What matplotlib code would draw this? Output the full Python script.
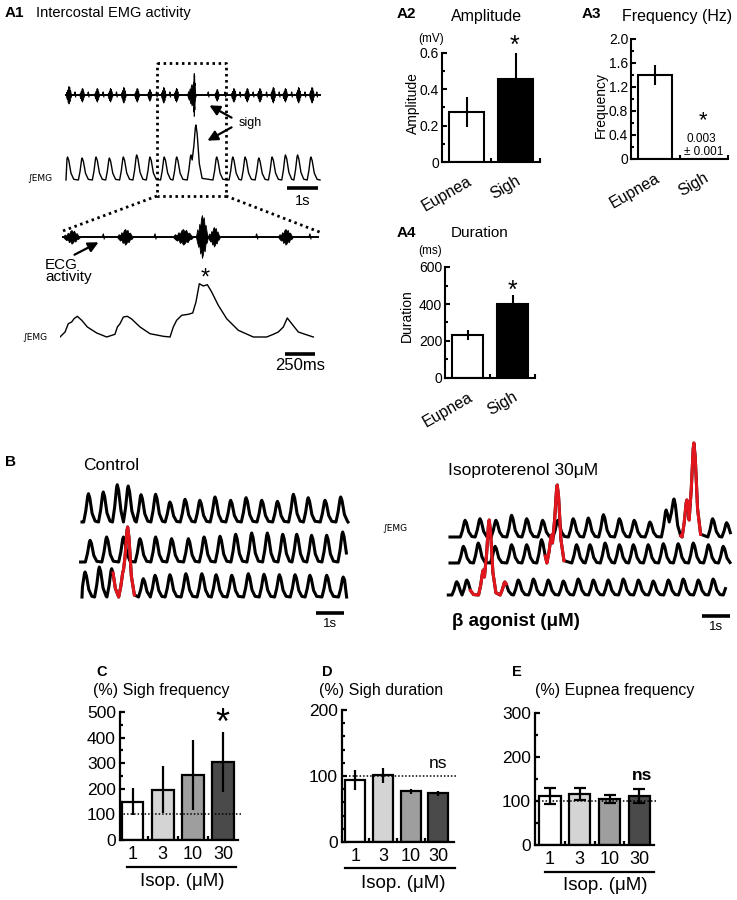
import numpy as np
import matplotlib
matplotlib.use("Agg")
import matplotlib.pyplot as plt

W, H = 737, 900
plt.rcParams["font.family"] = ["Liberation Sans", "DejaVu Sans"]

# ---------------- data ----------------
GROUPS = ["Eupnea", "Sigh"]
AMP_MEAN = [0.275, 0.457]
AMP_SEM = [0.085, 0.143]
FREQ_MEAN = [1.40, 0.003]
FREQ_SEM = [0.17, 0.0]
DUR_MEAN = [232, 400]
DUR_SEM = [25, 50]

ISOP_DOSES = ["1", "3", "10", "30"]
SIGH_FREQ_PCT = [150, 197, 253, 305]
SIGH_FREQ_SEM = [52, 92, 137, 118]
SIGH_DUR_PCT = [94, 101, 77, 74]
SIGH_DUR_SEM = [15, 11, 4, 4]
EUP_FREQ_PCT = [111, 116, 104, 111]
EUP_FREQ_SEM = [18, 14, 9, 16]

# A1 overview (s); raw EMG bursts: centre, half width, amplitude
A1_RAW_T = [0.08, 0.51, 0.99, 1.42, 1.85, 2.28, 2.69, 3.14, 3.55, 4.05, 4.12,
            4.86, 5.40, 5.83, 6.24, 6.67, 7.06, 7.49, 7.92]
A1_RAW_W = [0.09, 0.08, 0.08, 0.08, 0.08, 0.08, 0.07, 0.08, 0.08, 0.14, 0.05,
            0.07, 0.08, 0.08, 0.08, 0.08, 0.08, 0.08, 0.08]
A1_RAW_A = [9, 7, 7, 7, 8, 7, 6, 8, 7, 11, 22, 6, 7, 7, 7, 8, 7, 8, 8]
A1_ECG_T = [0.29, 0.72, 1.20, 1.63, 2.92, 3.35, 4.59, 5.13, 5.61, 6.04, 6.47,
            6.88, 7.28, 7.71, 8.09]
A1_INT_T = [0.05, 0.52, 0.97, 1.40, 1.85, 2.28, 2.71, 3.17, 3.57, 4.03, 4.19,
            4.86, 5.38, 5.78, 6.22, 6.65, 7.08, 7.47, 7.90]
A1_INT_H = [23, 22, 23, 22, 23, 25, 23, 23, 23, 25, 55, 23, 23, 23, 22, 23, 25, 25, 23]
A1_INT_BASE = {10: 20}

# A1 expanded view (ms)
Z_RAW_T = [96, 542, 1025, 1183, 1283, 1879]
Z_RAW_W = [71, 67, 85, 50, 50, 62]
Z_RAW_A = [7, 8, 8, 22, 10, 8]
Z_ECG_T = [361, 792, 1639, 2083]
Z_INT_T = [0, 42, 69, 97, 117, 144, 181, 228, 306, 389, 458, 478, 500, 528, 561,
           597, 667, 750, 861, 917, 944, 972, 1014, 1069, 1106, 1133, 1161, 1194,
           1228, 1264, 1319, 1389, 1486, 1611, 1722, 1778, 1819, 1861, 1894, 1931,
           1986, 2042, 2111]
Z_INT_Y = [0, 5, 13.3, 15, 18.3, 20.7, 16.7, 10, 4, 0, 2.7, 10, 13.3, 20, 20.7,
           18, 10, 3.3, 0.7, 0, 10, 16.7, 21.7, 22.7, 24, 35, 53.3, 51, 52.3, 45,
           31.7, 18.3, 6.7, 0, 0, 2.7, 5, 10, 19, 13.3, 5, 2.7, 0]

# B control (s)
CTRL_R1_T = [0.23, 0.76, 1.26, 1.65, 2.11, 2.63, 3.14, 3.68, 4.21, 4.75, 5.31,
             5.86, 6.42, 6.98, 7.55, 8.08, 8.68, 9.24]
CTRL_R1_H = [28.3, 30, 37.3, 36, 27.3, 27.7, 20, 22.7, 21.7, 25, 21.7, 24.3,
             21.7, 20.7, 27.7, 24.3, 21.7, 25]
CTRL_R2_T = [0.29, 0.88, 1.48, 2.07, 2.63, 3.20, 3.80, 4.36, 4.93, 5.49, 6.06,
             6.62, 7.17, 7.67, 8.20, 8.74, 9.31]
CTRL_R2_H = [21.7, 25, 25, 23.3, 25, 23.3, 23.3, 25, 25.7, 27.7, 29, 29, 27.7,
             27.7, 26.7, 26.7, 30]
CTRL_R3_T = [0.11, 0.62, 1.06, 1.48, 1.63, 2.19, 2.61, 3.14, 3.71, 4.28, 4.79,
             5.35, 5.94, 6.50, 7.05, 7.61, 8.14, 8.74, 9.33, 9.62]
CTRL_R3_H = [25, 30, 28.3, 26.7, 70, 18.3, 21.7, 22.3, 23.3, 23.3, 22.3, 21.7,
             23.3, 22.7, 22.3, 22.3, 21.7, 21.7, 20, 22]
CTRL_R3_BASE = {4: 20}
CTRL_R3_RED = (1.10, 1.92)

# B isoproterenol (s)
ISO_R1_T = [0.54, 1.07, 1.64, 2.20, 2.74, 3.31, 3.85, 4.40, 4.94, 5.48, 6.05,
            6.58, 7.14, 7.72, 8.00, 8.46, 8.71, 9.38, 9.88]
ISO_R1_H = [16.7, 18.3, 16.7, 21.7, 18.3, 16.7, 16.7, 18.3, 19, 22.3, 18.3,
            16.7, 15, 27, 38, 37, 94, 18.3, 14.3]
ISO_R1_BASE = {14: 15, 16: 17}
ISO_R1_RED = (8.22, 9.08)
ISO_R2_T = [0.48, 1.01, 1.61, 2.20, 2.74, 3.27, 3.63, 3.83, 4.52, 5.00, 5.54,
            6.05, 6.55, 7.08, 7.62, 8.15, 8.69, 9.23, 9.76]
ISO_R2_H = [16.7, 20, 16.7, 18.3, 18.3, 23.3, 28, 78, 18.3, 18.3, 20, 18.3,
            18.3, 18.3, 19.3, 19.3, 20, 18.3, 16.7]
ISO_R2_BASE = {7: 20}
ISO_R2_RED = (3.40, 4.25)
ISO_R3_T = [0.24, 0.60, 1.19, 1.40, 1.96, 2.44, 2.98, 3.51, 4.05, 4.58, 5.12,
            5.65, 6.19, 6.73, 7.26, 7.80, 8.33, 8.87, 9.40, 9.93]
ISO_R3_H = [13.3, 15, 25, 75, 13, 15, 16, 15, 14, 16, 15, 15, 16, 15, 14, 15,
            16, 15, 16, 16]
ISO_R3_BASE = {3: 18}
ISO_R3_RED = (0.68, 2.08)

# breath waveform template (fraction of rise / fall time, fraction of height)
SHAPE_F = [-1.0, -0.55, -0.15, 0.0, 0.2, 0.55, 1.0]
SHAPE_Y = [0.0, 0.4, 0.92, 1.0, 0.85, 0.3, 0.03]
# ragged envelope of a raw EMG burst (upper and lower side)
SPINDLE_F = [-1.0, -0.8, -0.6, -0.45, -0.3, -0.15, 0.0, 0.15, 0.3, 0.45, 0.6, 0.8, 1.0]
SPINDLE_TOP = [0.0, 0.35, 0.2, 0.6, 0.4, 0.85, 1.0, 0.7, 0.9, 0.45, 0.55, 0.2, 0.0]
SPINDLE_BOT = [0.0, 0.25, 0.45, 0.3, 0.75, 0.55, 0.95, 0.8, 0.5, 0.65, 0.3, 0.25, 0.0]

RED = "#e3161d"


def px_axes(fig, x0, y0, x1, y1, off=True):
    ax = fig.add_axes([x0 / W, 1 - y1 / H, (x1 - x0) / W, (y1 - y0) / H])
    if off:
        ax.axis("off")
    return ax


def breath_xy(peak_t, peak_h, bases, start, end, rise, fall):
    xs, ys = [start], [0.0]
    n = len(peak_t)
    for i in range(n):
        t, h, b = peak_t[i], peak_h[i], bases.get(i, 0.0)
        nxt = peak_t[i + 1] - rise if i + 1 < n else np.inf
        for f, fy in zip(SHAPE_F, SHAPE_Y):
            if f <= 0:
                x = t + f * rise
                y = b + (h - b) * fy
                if x <= xs[-1]:
                    continue
            else:
                x = t + f * fall
                y = h * fy
                if x >= nxt:
                    break
            xs.append(x)
            ys.append(y)
    if xs[-1] < end:
        xs.append(end)
        ys.append(0.0)
    xs, ys = np.array(xs), np.array(ys)
    keep = xs <= end
    return xs[keep], ys[keep]


def draw_breaths(ax, peak_t, peak_h, bases, start, end, base_y, rise, fall,
                 lw, red=None):
    xs, ys = breath_xy(peak_t, peak_h, bases, start, end, rise, fall)
    ax.plot(xs, ys + base_y, color="black", lw=lw, solid_joinstyle="round",
            clip_on=False)
    if red is not None:
        m = (xs >= red[0]) & (xs <= red[1])
        ax.plot(xs[m], ys[m] + base_y, color=RED, lw=lw, solid_joinstyle="round",
                clip_on=False)


def draw_raw(ax, centers, widths, amps, ecg_t, ecg_w, ecg_a, start, end, y0):
    ax.plot([start, end], [y0, y0], color="black", lw=1.4, clip_on=False)
    for c, w, a in zip(centers, widths, amps):
        xs = [c + f * w for f in SPINDLE_F]
        top = np.array(SPINDLE_TOP) * a
        bot = np.array(SPINDLE_BOT) * a
        ax.fill_between(xs, y0 - bot, y0 + top, color="black", lw=0.6)
    for c in ecg_t:
        ax.plot([c - ecg_w, c, c + ecg_w], [y0, y0 + ecg_a, y0 - ecg_a * 0.6],
                color="black", lw=0.9)


def scale_bar(ax, t0, length, y, label, label_dy, fs):
    ax.plot([t0, t0 + length], [y, y], color="black", lw=2.6,
            solid_capstyle="butt", clip_on=False)
    ax.text(t0 + length / 2, y + label_dy, label, ha="center", va="center",
            fontsize=fs, clip_on=False)


def a_panel(fig, box, means, sems, ylim, major, minor, fmt):
    ax = px_axes(fig, *box, off=False)
    x = np.arange(len(means))
    ax.bar(x, means, 0.7, color=["white", "black"], edgecolor="black",
           linewidth=1.5, zorder=2)
    ax.errorbar(x, means, yerr=sems, fmt="none", ecolor="black",
                elinewidth=1.5, capsize=0, zorder=3)
    ax.set_xlim(-0.5, 1.5)
    ax.set_ylim(*ylim)
    for s in ("top", "right"):
        ax.spines[s].set_visible(False)
    for s in ("left", "bottom"):
        ax.spines[s].set_linewidth(1.5)
    ax.set_yticks(major, [fmt(v) for v in major])
    ax.set_yticks(minor, minor=True)
    ax.set_xticks([0, 1], GROUPS, rotation=30, ha="right", va="top",
                  rotation_mode="anchor")
    ax.set_xticks([0.5, 1.5], minor=True)
    ax.tick_params(axis="y", which="major", direction="in", length=3.5,
                   width=1.5, labelsize=10, pad=2)
    ax.tick_params(axis="y", which="minor", direction="in", length=2.5, width=1.5)
    ax.tick_params(axis="x", which="major", length=0, labelsize=11.5, pad=8)
    ax.tick_params(axis="x", which="minor", direction="in", length=3, width=1.5)
    return ax


def dose_panel(fig, box, means, sems, xlim, ylim, major, minor, capsize):
    ax = px_axes(fig, *box, off=False)
    x = np.arange(len(means))
    ax.bar(x, means, 0.72, color=["white", "#d4d4d4", "#9e9e9e", "#4a4a4a"],
           edgecolor="black", linewidth=1.6, zorder=2)
    ax.errorbar(x, means, yerr=sems, fmt="none", ecolor="black", elinewidth=1.6,
                capsize=capsize, capthick=1.6, zorder=3)
    ax.plot([xlim[0], xlim[1] + 0.12], [100, 100], ls=(0, (1, 1.3)),
            color="black", lw=1.1, clip_on=False, zorder=4)
    ax.set_xlim(*xlim)
    ax.set_ylim(*ylim)
    for s in ("top", "right"):
        ax.spines[s].set_visible(False)
    for s in ("left", "bottom"):
        ax.spines[s].set_linewidth(1.6)
    ax.set_yticks(major)
    ax.set_yticks(minor, minor=True)
    ax.set_xticks(x, ISOP_DOSES)
    ax.set_xticks(x[:-1] + 0.5, minor=True)
    ax.tick_params(axis="y", which="major", direction="in", length=3.5,
                   width=1.6, labelsize=12.5, pad=3)
    ax.tick_params(axis="y", which="minor", direction="in", length=2.5, width=1.6)
    ax.tick_params(axis="x", which="major", length=0, labelsize=13, pad=4)
    ax.tick_params(axis="x", which="minor", direction="in", length=3, width=1.6)
    return ax


fig = plt.figure(figsize=(W / 100, H / 100), dpi=100)

# ---------------- A1 overview ----------------
ax = px_axes(fig, 66, 60, 320, 195)
ax.set_xlim(0, 254 / 31)
ax.set_ylim(0, 135)
draw_raw(ax, A1_RAW_T, A1_RAW_W, A1_RAW_A, A1_ECG_T, 0.02, 3, 0, 254 / 31, 100)
draw_breaths(ax, A1_INT_T, A1_INT_H, A1_INT_BASE, 0, 254 / 31, 15, 0.12, 0.2, 1.0)
scale_bar(ax, 7.13, 1.0, 7, "1s", -13, 10.5)

# ---------------- A1 expanded ----------------
ax = px_axes(fig, 60, 215, 320, 360)
ax.set_xlim(0, 260 / 0.12)
ax.set_ylim(0, 145)
draw_raw(ax, Z_RAW_T, Z_RAW_W, Z_RAW_A, Z_ECG_T, 8, 3, 25, 2150, 123)
ax.plot(Z_INT_T, np.array(Z_INT_Y) + 23, color="black", lw=1.0)
scale_bar(ax, 1875, 250, 6, "250ms", -12, 12)

# ---------------- A2-A4 ----------------
a_panel(fig, (442, 53, 540, 162), AMP_MEAN, AMP_SEM, (0, 0.6),
        [0, 0.2, 0.4, 0.6], [0.1, 0.3, 0.5], lambda v: "0" if v == 0 else f"{v:.1f}")
a_panel(fig, (631, 39, 728, 159), FREQ_MEAN, FREQ_SEM, (0, 2.0),
        [0, 0.4, 0.8, 1.2, 1.6, 2.0], [0.2, 0.6, 1.0, 1.4, 1.8],
        lambda v: "0" if v == 0 else f"{v:.1f}")
a_panel(fig, (445, 267, 535, 378), DUR_MEAN, DUR_SEM, (0, 600),
        [0, 200, 400, 600], [100, 300, 500], lambda v: f"{v:d}")

# ---------------- B traces ----------------
ax = px_axes(fig, 82, 440, 350, 610)
ax.set_xlim(0, 268 / 28)
ax.set_ylim(0, 170)
draw_breaths(ax, CTRL_R1_T, CTRL_R1_H, {}, 0, 9.5, 88, 0.17, 0.24, 2.2)
draw_breaths(ax, CTRL_R2_T, CTRL_R2_H, {}, -0.05, 9.45, 48, 0.17, 0.24, 2.2)
draw_breaths(ax, CTRL_R3_T, CTRL_R3_H, CTRL_R3_BASE, 0, 9.51, 13, 0.17, 0.24,
             2.2, red=CTRL_R3_RED)
scale_bar(ax, 8.36, 1.0, -3, "1s", -11, 9.5)

ax = px_axes(fig, 448, 440, 735, 625)
ax.set_xlim(-2 / 28, 285 / 28)
ax.set_ylim(0, 185)
draw_breaths(ax, ISO_R1_T, ISO_R1_H, ISO_R1_BASE, 0, 10.06, 88, 0.17, 0.24,
             2.2, red=ISO_R1_RED)
draw_breaths(ax, ISO_R2_T, ISO_R2_H, ISO_R2_BASE, 0, 10.0, 62, 0.17, 0.24,
             2.2, red=ISO_R2_RED)
draw_breaths(ax, ISO_R3_T, ISO_R3_H, ISO_R3_BASE, -0.06, 9.90, 30, 0.17, 0.24,
             2.2, red=ISO_R3_RED)
scale_bar(ax, 9.0, 1.0, 9, "1s", -11, 9.5)

# ---------------- C-E ----------------
dose_panel(fig, (120, 712, 238, 840), SIGH_FREQ_PCT, SIGH_FREQ_SEM,
           (-0.42, 3.5), (0, 500), range(0, 501, 100), range(50, 500, 100), 0)
dose_panel(fig, (342, 710, 454, 842), SIGH_DUR_PCT, SIGH_DUR_SEM,
           (-0.48, 3.56), (0, 200), [0, 100, 200], range(20, 200, 20), 0)
dose_panel(fig, (535, 713, 654, 845), EUP_FREQ_PCT, EUP_FREQ_SEM,
           (-0.5, 3.49), (0, 300), [0, 100, 200, 300], range(50, 300, 50), 4)

# ---------------- annotations (pixel overlay) ----------------
ov = fig.add_axes([0, 0, 1, 1], zorder=10)
ov.set_xlim(0, W)
ov.set_ylim(H, 0)
ov.axis("off")
ov.patch.set_alpha(0)


def t(x, y, s, **kw):
    kw.setdefault("va", "center")
    ov.text(x, y, s, **kw)


INTEG = ["DejaVu Sans"]

t(5, 13, "A1", fontsize=11, weight="bold")
t(36, 13, "Intercostal EMG activity", fontsize=10.5)
dot = dict(color="black", lw=2.0, ls=(0, (0.9, 1.3)))
ov.plot([157, 226, 226, 157, 157], [63, 63, 196, 196, 63], **dot)
ov.plot([157, 60], [196, 232], **dot)
ov.plot([226, 322], [196, 233], **dot)
arr = dict(arrowstyle="-|>,head_length=0.6,head_width=0.3", color="black", lw=1.6)
ov.annotate("", xy=(207, 104), xytext=(234, 119), arrowprops=arr)
ov.annotate("", xy=(205, 142), xytext=(234, 126), arrowprops=arr)
t(239, 123, "sigh", fontsize=9)
t(27, 178, "∫EMG", fontsize=6.5, family=INTEG)
t(22, 337, "∫EMG", fontsize=6.5, family=INTEG)
ov.annotate("", xy=(101, 241), xytext=(72, 256), arrowprops=arr)
t(45, 271, "ECG\nactivity", fontsize=11, linespacing=0.85)
t(205, 279, "*", fontsize=17, ha="center")

t(397, 14, "A2", fontsize=11, weight="bold")
t(487, 16, "Amplitude", fontsize=11.5, ha="center")
t(431, 39, "(mV)", fontsize=8.5, ha="center")
t(413, 103, "Amplitude", fontsize=10, ha="center", rotation=90)
t(514, 46, "*", fontsize=18, ha="center")
t(582, 14, "A3", fontsize=11, weight="bold")
t(677, 16, "Frequency (Hz)", fontsize=11.5, ha="center")
t(601, 105, "Frequency", fontsize=10, ha="center", rotation=90)
t(703, 121, "*", fontsize=16, ha="center")
t(701, 139, "0.003", fontsize=8.5, ha="center")
t(704, 152, "± 0.001", fontsize=8.5, ha="center")
t(397, 233, "A4", fontsize=11, weight="bold")
t(480, 233, "Duration", fontsize=11, ha="center")
t(430, 251, "(ms)", fontsize=8.5, ha="center")
t(407, 316, "Duration", fontsize=10, ha="center", rotation=90)
t(512, 291, "*", fontsize=18, ha="center")

t(5, 462, "B", fontsize=11, weight="bold")
t(83, 466, "Control", fontsize=12.5)
t(448, 471, "Isoproterenol 30μM", fontsize=12.5)
t(382, 528, "∫EMG", fontsize=6.5, family=INTEG)
t(452, 621, "β agonist (μM)", fontsize=13.5, weight="bold")

for letter, lx, tx, ty, title, ux0, ux1, uy, icx, icy in [
        ("C", 96, 93, 690, "(%) Sigh frequency", 127, 236, 867, 182, 881),
        ("D", 322, 319, 691, "(%) Sigh duration", 345, 455, 868, 403, 883),
        ("E", 512, 535, 691, "(%) Eupnea frequency", 545, 654, 872, 605, 886)]:
    t(lx, 672, letter, fontsize=10.5, weight="bold")
    t(tx, ty, title, fontsize=11.5)
    ov.plot([ux0, ux1], [uy, uy], color="black", lw=1.6)
    t(icx, icy, "Isop. (μM)", fontsize=13.5, ha="center")
t(222, 724, "*", fontsize=26, ha="center")
t(438, 763, "ns", fontsize=12.5, ha="center")
t(642, 775, "ns", fontsize=12.5, ha="center", weight="bold")

fig.savefig("out.png", dpi=100)
